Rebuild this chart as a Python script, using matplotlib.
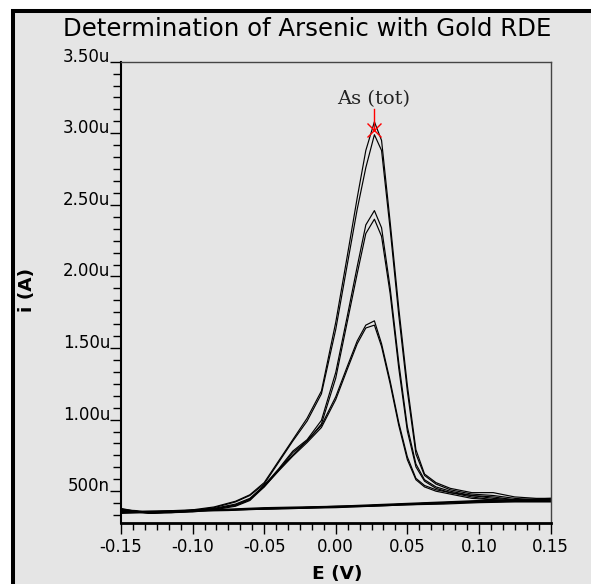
import matplotlib
matplotlib.use("Agg")
import matplotlib.pyplot as plt
import numpy as np
from matplotlib.patches import Rectangle
from matplotlib.ticker import MultipleLocator, FuncFormatter, FormatStrFormatter

plt.rcParams["axes.unicode_minus"] = False
plt.rcParams["font.family"] = ["DejaVu Sans"]

GRIS = "#e5e5e5"

# balayage aller (V) et courants (uA) pour les 6 mesures
E_ALLER = [-0.150, -0.140, -0.130, -0.115, -0.100, -0.085, -0.070, -0.060, -0.050,
           -0.040, -0.030, -0.020, -0.010, 0.000, 0.008, 0.015, 0.021, 0.027,
           0.032, 0.038, 0.044, 0.050, 0.056, 0.062, 0.070, 0.080, 0.095, 0.110,
           0.125, 0.140, 0.150]
I_A1 = [0.38, 0.36, 0.345, 0.355, 0.37, 0.39, 0.43, 0.475, 0.56, 0.71, 0.86, 1.01,
        1.20, 1.68, 2.14, 2.55, 2.88, 3.08, 2.95, 2.38, 1.78, 1.24, 0.79, 0.62,
        0.56, 0.52, 0.49, 0.49, 0.46, 0.45, 0.45]
I_A2 = [0.37, 0.365, 0.35, 0.355, 0.365, 0.385, 0.425, 0.47, 0.55, 0.70, 0.85, 0.99,
        1.18, 1.63, 2.08, 2.47, 2.76, 2.99, 2.88, 2.33, 1.73, 1.20, 0.76, 0.61,
        0.55, 0.51, 0.48, 0.47, 0.45, 0.44, 0.44]
I_B1 = [0.375, 0.36, 0.35, 0.355, 0.365, 0.38, 0.41, 0.45, 0.54, 0.655, 0.78, 0.86,
        0.995, 1.33, 1.72, 2.07, 2.36, 2.46, 2.34, 1.92, 1.40, 0.95, 0.69, 0.58,
        0.53, 0.50, 0.47, 0.46, 0.44, 0.44, 0.44]
I_B2 = [0.37, 0.36, 0.35, 0.35, 0.36, 0.375, 0.405, 0.445, 0.53, 0.645, 0.77, 0.85,
        0.97, 1.29, 1.68, 2.02, 2.30, 2.40, 2.28, 1.88, 1.36, 0.92, 0.67, 0.57,
        0.52, 0.49, 0.47, 0.45, 0.44, 0.43, 0.43]
I_C1 = [0.37, 0.36, 0.35, 0.355, 0.36, 0.375, 0.40, 0.44, 0.54, 0.648, 0.753, 0.853,
        0.96, 1.16, 1.37, 1.55, 1.66, 1.69, 1.53, 1.27, 0.98, 0.74, 0.59, 0.54,
        0.51, 0.49, 0.46, 0.44, 0.43, 0.44, 0.44]
I_C2 = [0.365, 0.355, 0.345, 0.35, 0.355, 0.37, 0.395, 0.435, 0.53, 0.64, 0.745, 0.84,
        0.945, 1.14, 1.35, 1.53, 1.64, 1.66, 1.51, 1.25, 0.96, 0.72, 0.58, 0.53,
        0.50, 0.48, 0.45, 0.44, 0.43, 0.43, 0.43]

# balayage retour (ligne de base quasi plate)
E_RETOUR = [0.150, 0.125, 0.100, 0.075, 0.050, 0.025, 0.000, -0.025, -0.050,
            -0.075, -0.100, -0.125, -0.150]
R_1 = [0.45, 0.44, 0.435, 0.425, 0.415, 0.405, 0.395, 0.39, 0.385, 0.375, 0.37, 0.36, 0.36]
R_2 = [0.44, 0.435, 0.43, 0.42, 0.41, 0.40, 0.39, 0.385, 0.38, 0.37, 0.365, 0.36, 0.355]
R_3 = [0.43, 0.43, 0.425, 0.415, 0.405, 0.395, 0.39, 0.38, 0.375, 0.37, 0.36, 0.355, 0.35]
R_4 = [0.445, 0.44, 0.43, 0.42, 0.41, 0.40, 0.395, 0.385, 0.375, 0.37, 0.365, 0.36, 0.355]
R_5 = [0.425, 0.425, 0.42, 0.41, 0.405, 0.395, 0.385, 0.38, 0.375, 0.365, 0.36, 0.35, 0.35]
R_6 = [0.44, 0.43, 0.425, 0.42, 0.41, 0.40, 0.39, 0.385, 0.38, 0.37, 0.365, 0.355, 0.345]

ALLERS = [I_A1, I_A2, I_B1, I_B2, I_C1, I_C2]
RETOURS = [R_1, R_2, R_3, R_4, R_5, R_6]

PIC_E = 0.0266      # pic annote
PIC_I = 3.02
PIC_TXT = 3.205

fig = plt.figure(figsize=(5.91, 5.84), dpi=100)
fig.patch.set_facecolor("white")
cadre = Rectangle((13 / 591, -0.1), 1.2, 1 - 11 / 584 + 0.1, transform=fig.transFigure,
                  facecolor=GRIS, edgecolor="black", linewidth=2.9, zorder=-5)
fig.add_artist(cadre)

ax = fig.add_axes([121 / 591, 61.3 / 584, (550.5 - 121) / 591, (522.7 - 61.7) / 584])
ax.set_facecolor(GRIS)

for ia, ir in zip(ALLERS, RETOURS):
    ax.plot(E_ALLER, np.array(ia) * 1e-6, color="black", lw=0.85)
    ax.plot(E_RETOUR, np.array(ir) * 1e-6, color="black", lw=0.85)

# marqueur du pic
ax.plot([PIC_E, PIC_E], [3.17e-6, PIC_I * 1e-6], color="red", lw=1.0)
ax.plot([PIC_E], [PIC_I * 1e-6], marker="x", color="red", ms=10, mew=1.0)
ax.text(PIC_E, PIC_TXT * 1e-6, "As (tot)", family="DejaVu Serif", fontsize=14,
        ha="center", va="baseline", color="#222222")

ax.set_xlim(-0.15, 0.15)
ax.set_ylim(0.28e-6, 3.5e-6)

ax.xaxis.set_major_locator(MultipleLocator(0.05))
ax.xaxis.set_minor_locator(MultipleLocator(0.05 / 6))
ax.xaxis.set_major_formatter(FormatStrFormatter("%.2f"))
ax.yaxis.set_major_locator(MultipleLocator(0.5e-6))
ax.yaxis.set_minor_locator(MultipleLocator(0.5e-6 / 6))


def fmt_courant(v, pos):
    if v < 0.99e-6:
        return "%.0fn" % (v * 1e9)
    return "%.2fu" % (v * 1e6)


ax.yaxis.set_major_formatter(FuncFormatter(fmt_courant))

ax.tick_params(axis="x", which="major", direction="out", length=7.7, width=1,
               pad=3.5, labelsize=12, colors="black")
ax.tick_params(axis="x", which="minor", direction="out", length=4.8, width=1)
ax.tick_params(axis="y", which="major", direction="out", length=7.9, width=1,
               pad=0, labelsize=12, colors="black")
ax.tick_params(axis="y", which="minor", direction="out", length=5.8, width=1)
for t in ax.yaxis.get_major_ticks():
    t.label1.set_verticalalignment("baseline")

ax.spines["left"].set_linewidth(1.5)
ax.spines["bottom"].set_linewidth(2.0)
ax.spines["top"].set_color("#444444")
ax.spines["right"].set_color("#444444")
ax.spines["top"].set_linewidth(1.0)
ax.spines["right"].set_linewidth(1.0)

fig.text(307.5 / 591, 1 - 36 / 584, "Determination of Arsenic with Gold RDE",
         fontsize=17.6, ha="center", va="baseline", color="black")
fig.text(27 / 591, 1 - 290 / 584, "i (A)", rotation=90, fontsize=13.3,
         fontweight="bold", ha="center", va="center")
fig.text(337 / 591, 1 - 579.0 / 584, "E (V)", fontsize=13.3, fontweight="bold",
         ha="center", va="baseline")

fig.savefig("out.png", dpi=100, facecolor="white")
